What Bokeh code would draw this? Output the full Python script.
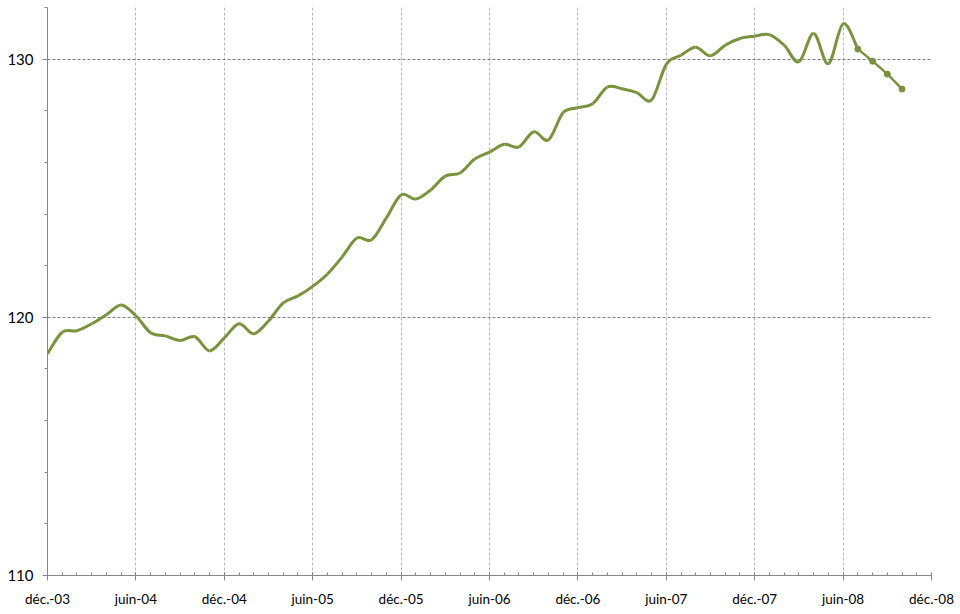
import numpy as np
from bokeh.plotting import figure
from bokeh.models import FixedTicker, Range1d, ColumnDataSource
from bokeh.embed import file_html
from bokeh.resources import INLINE

# ---- data (month index 0 = déc.-03) ----
months = list(range(59))
values = [118.59, 119.42, 119.48, 119.75, 120.10, 120.48, 120.06, 119.40, 119.28, 119.10,
          119.25, 118.70, 119.20, 119.75, 119.36, 119.86, 120.56, 120.83, 121.20, 121.68,
          122.34, 123.07, 123.00, 123.85, 124.74, 124.58, 124.93, 125.47, 125.59, 126.13,
          126.40, 126.70, 126.60, 127.19, 126.87, 127.93, 128.12, 128.27, 128.92, 128.85,
          128.70, 128.42, 129.80, 130.15, 130.46, 130.13, 130.54, 130.80, 130.89, 130.95,
          130.54, 129.90, 130.99, 129.82, 131.37, 130.39, 129.92, 129.42, 128.84]
split_at = 55  # from here on the points are marked
x_tick_pos = [0, 6, 12, 18, 24, 30, 36, 42, 48, 54, 60]
x_tick_labels = ["déc.-03", "juin-04", "déc.-04", "juin-05", "déc.-05", "juin-06",
                 "déc.-06", "juin-07", "déc.-07", "juin-08", "déc.-08"]
y_ticks = [110, 120, 130]

COLOR = "#77933C"
FONT = "Lato"


def bezier_source(xs, ys):
    xs = np.asarray(xs, float)
    ys = np.asarray(ys, float)
    n = len(xs)
    d = dict(x0=[], y0=[], x1=[], y1=[], cx0=[], cy0=[], cx1=[], cy1=[])
    for i in range(n - 1):
        im = max(i - 1, 0)
        ip2 = min(i + 2, n - 1)
        d["x0"].append(xs[i]); d["y0"].append(ys[i])
        d["x1"].append(xs[i + 1]); d["y1"].append(ys[i + 1])
        d["cx0"].append(xs[i] + (xs[i + 1] - xs[im]) / 6)
        d["cy0"].append(ys[i] + (ys[i + 1] - ys[im]) / 6)
        d["cx1"].append(xs[i + 1] - (xs[ip2] - xs[i]) / 6)
        d["cy1"].append(ys[i + 1] - (ys[ip2] - ys[i]) / 6)
    return ColumnDataSource(d)


p = figure(width=960, height=610, output_backend="svg", toolbar_location=None,
           x_range=Range1d(0, 60), y_range=Range1d(110, 132),
           min_border_left=47, min_border_right=29, min_border_top=7, min_border_bottom=35)
p.outline_line_color = None
p.background_fill_color = "white"
p.border_fill_color = "white"

# grids
p.xgrid.ticker = FixedTicker(ticks=x_tick_pos)
p.xgrid.grid_line_color = "#b8b8b8"
p.xgrid.grid_line_dash = "3 2"
p.xgrid.grid_line_width = 1
p.ygrid.ticker = FixedTicker(ticks=[120, 130])
p.ygrid.grid_line_color = "#7f7f7f"
p.ygrid.grid_line_dash = "3 2"
p.ygrid.grid_line_width = 1

# x axis
xa = p.xaxis[0]
xa.ticker = FixedTicker(ticks=x_tick_pos, minor_ticks=months + [59, 60])
xa.major_label_overrides = {pos: lab for pos, lab in zip(x_tick_pos, x_tick_labels)}
xa.axis_line_color = "#868686"
xa.major_tick_line_color = "#868686"
xa.minor_tick_line_color = "#868686"
xa.major_tick_in = 3
xa.major_tick_out = 5
xa.minor_tick_in = 3
xa.minor_tick_out = 0
xa.major_label_standoff = 10
xa.major_label_text_font = FONT
xa.major_label_text_font_size = "13.5px"
xa.major_label_text_color = "black"

# y axis
ya = p.yaxis[0]
ya.ticker = FixedTicker(ticks=y_ticks, minor_ticks=list(range(110, 133, 2)))
ya.axis_line_color = "#868686"
ya.major_tick_line_color = "#868686"
ya.minor_tick_line_color = "#868686"
ya.major_tick_in = 0
ya.major_tick_out = 5
ya.minor_tick_in = 0
ya.minor_tick_out = 3
ya.major_label_standoff = 9
ya.major_label_text_font = FONT
ya.major_label_text_font_size = "15px"
ya.major_label_text_color = "black"

# smoothed line, main part
src_a = bezier_source(months[:split_at + 1], values[:split_at + 1])
p.bezier("x0", "y0", "x1", "y1", "cx0", "cy0", "cx1", "cy1", source=src_a,
         line_color=COLOR, line_width=3)
# last part, with markers
src_b = bezier_source(months[split_at:], values[split_at:])
p.bezier("x0", "y0", "x1", "y1", "cx0", "cy0", "cx1", "cy1", source=src_b,
         line_color=COLOR, line_width=2.5)
p.scatter(months[split_at:], values[split_at:], size=6, color=COLOR)

open("out.html", "w").write(file_html(p, INLINE))
